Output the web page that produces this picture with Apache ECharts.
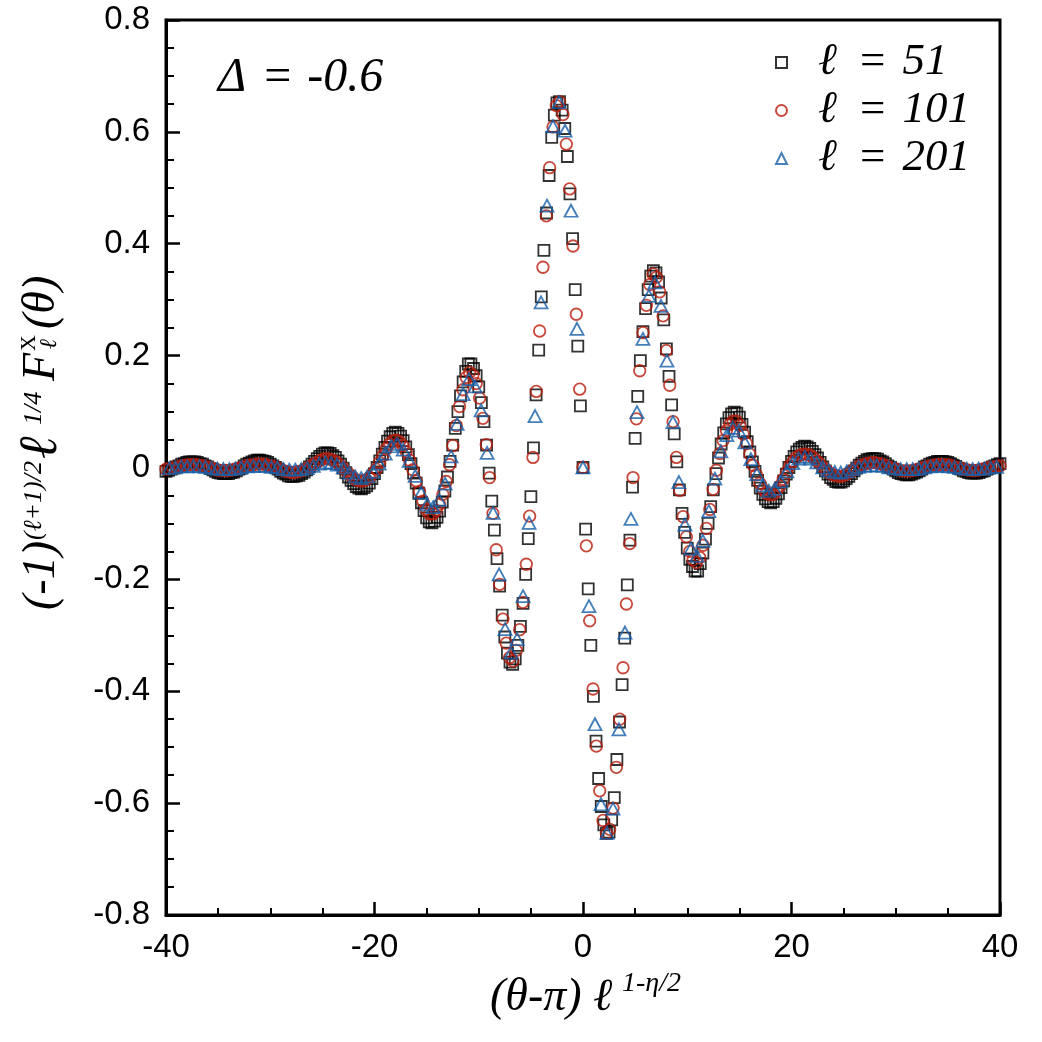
<!DOCTYPE html>
<html lang="en">
<head>
    <meta charset="UTF-8">
    <title>echarts</title>
    <script src="https://cdn.jsdelivr.net/npm/echarts/dist/echarts.min.js"></script>
    <style>
        html, body { margin: 0; padding: 0; background: #fff; }
        #main { width: 1042px; height: 1042px; }
    </style>
</head>
<body>
<div id="main"></div>
<script type="text/javascript">
    // axis ticks
    var xTicks = [-40, -20, 0, 20, 40];
    var yTicks = [-0.8, -0.6, -0.4, -0.2, 0, 0.2, 0.4, 0.6, 0.8];

    // series names (legend)
    var names = ['ℓ = 51', 'ℓ = 101', 'ℓ = 201'];

    // l = 51 : x from -40 to 40, evenly spaced
    var l51Range = [-40, 40];
    var l51 = [
        -0.007, -0.005, -0.003, -0.001, 0.001, 0.003, 0.006, 0.007, 0.009, 0.010,
        0.010, 0.010, 0.009, 0.007, 0.006, 0.003, 0.001, -0.002, -0.004, -0.007,
        -0.009, -0.010, -0.011, -0.011, -0.011, -0.009, -0.008, -0.006, -0.003, -0.001,
        0.003, 0.006, 0.008, 0.010, 0.012, 0.013, 0.013, 0.012, 0.011, 0.009,
        0.006, 0.003, 0.000, -0.003, -0.007, -0.010, -0.012, -0.015, -0.016, -0.016,
        -0.015, -0.014, -0.011, -0.008, -0.004, 0.001, 0.006, 0.011, 0.016, 0.020,
        0.024, 0.026, 0.026, 0.025, 0.021, 0.018, 0.012, 0.006, -0.001, -0.009,
        -0.017, -0.023, -0.029, -0.034, -0.037, -0.038, -0.036, -0.033, -0.028, -0.020,
        -0.011, 0.000, 0.012, 0.024, 0.036, 0.047, 0.055, 0.061, 0.063, 0.061,
        0.056, 0.048, 0.037, 0.023, 0.007, -0.010, -0.028, -0.046, -0.063, -0.077,
        -0.090, -0.097, -0.099, -0.096, -0.089, -0.078, -0.062, -0.042, -0.017, 0.011,
        0.040, 0.070, 0.100, 0.128, 0.153, 0.172, 0.185, 0.185, 0.177, 0.164,
        0.144, 0.116, 0.082, 0.040,
        -0.010, -0.060, -0.112, -0.163, -0.212, -0.264, -0.303, -0.332, -0.348, -0.352,
        -0.342, -0.318, -0.284, -0.243, -0.191, -0.127, -0.052, 0.035, 0.130, 0.210,
        0.305, 0.388, 0.455, 0.522, 0.590, 0.630, 0.652, 0.654, 0.639, 0.606,
        0.556, 0.489, 0.409, 0.318, 0.217, 0.110,
        0, -0.110, -0.217, -0.318, -0.409, -0.489, -0.556, -0.606, -0.639, -0.654,
        -0.652, -0.630, -0.590, -0.522, -0.455, -0.388, -0.305, -0.210, -0.130, -0.035,
        0.052, 0.127, 0.191, 0.243, 0.284, 0.318, 0.342, 0.352, 0.348, 0.332,
        0.303, 0.264, 0.212, 0.163, 0.112, 0.060, 0.010,
        -0.040, -0.082, -0.116, -0.144, -0.164, -0.177, -0.185, -0.185, -0.172, -0.153,
        -0.128, -0.100, -0.070, -0.040, -0.011, 0.017, 0.042, 0.062, 0.078, 0.089,
        0.096, 0.099, 0.097, 0.090, 0.077, 0.063, 0.046, 0.028, 0.010, -0.007,
        -0.023, -0.037, -0.048, -0.056, -0.061, -0.063, -0.061, -0.055, -0.047, -0.036,
        -0.024, -0.012, 0.000, 0.011, 0.020, 0.028, 0.033, 0.036, 0.038, 0.037,
        0.034, 0.029, 0.023, 0.017, 0.009, 0.001, -0.006, -0.012, -0.018, -0.021,
        -0.025, -0.026, -0.026, -0.024, -0.020, -0.016, -0.011, -0.006, -0.001, 0.004,
        0.008, 0.011, 0.014, 0.015, 0.016, 0.016, 0.015, 0.012, 0.010, 0.007,
        0.003, 0.000, -0.003, -0.006, -0.009, -0.011, -0.012, -0.013, -0.013, -0.012,
        -0.010, -0.008, -0.006, -0.003, 0.001, 0.003, 0.006, 0.008, 0.009, 0.011,
        0.011, 0.011, 0.010, 0.009, 0.007, 0.004, 0.002, -0.001, -0.003, -0.006,
        -0.007, -0.009, -0.010, -0.010, -0.010, -0.009, -0.007, -0.006, -0.003, -0.001,
        0.001, 0.003, 0.005, 0.007
    ];

    // l = 101 : x from -40 to 40, evenly spaced
    var l101Range = [-40, 40];
    var l101 = [
        -0.003, -0.002, -0.001, 0.000, 0.002, 0.003,
        0.004, 0.005, 0.005, 0.005, 0.004, 0.003, 0.001, 0.000, -0.002, -0.004,
        -0.005, -0.005, -0.005, -0.005, -0.004, -0.003, -0.001, 0.000, 0.003, 0.004,
        0.005, 0.006, 0.006, 0.006, 0.005, 0.003, 0.002, 0.000, -0.003, -0.005,
        -0.007, -0.008, -0.009, -0.008, -0.007, -0.005, -0.003, 0.001, 0.005, 0.008,
        0.012, 0.015, 0.016, 0.015, 0.013, 0.010, 0.005, 0.000, -0.007, -0.012,
        -0.018, -0.022, -0.024, -0.024, -0.022, -0.018, -0.011, -0.003, 0.009, 0.021,
        0.033, 0.042, 0.048, 0.049, 0.046, 0.039, 0.028, 0.013, -0.004, -0.024,
        -0.043, -0.060, -0.075, -0.083, -0.083, -0.077, -0.066, -0.048, -0.025, 0.005,
        0.039, 0.075, 0.109, 0.139, 0.161, 0.170, 0.165, 0.150, 0.124, 0.088,
        0.041, -0.018, -0.082, -0.147, -0.209, -0.271, -0.314, -0.340, -0.346, -0.327,
        -0.290, -0.241, -0.173, -0.087, 0.018, 0.136, 0.244, 0.358, 0.450, 0.536,
        0.609, 0.647, 0.654, 0.631, 0.578, 0.498, 0.396, 0.274, 0.140,
        0, -0.140, -0.274, -0.396, -0.498, -0.578, -0.631, -0.654, -0.647, -0.609,
        -0.536, -0.450, -0.358, -0.244, -0.136, -0.018, 0.087, 0.173, 0.241, 0.290,
        0.327, 0.346, 0.340, 0.314, 0.271, 0.209, 0.147, 0.082, 0.018, -0.041,
        -0.088, -0.124, -0.150, -0.165, -0.170, -0.161, -0.139, -0.109, -0.075, -0.039,
        -0.005, 0.025, 0.048, 0.066, 0.077, 0.083, 0.083, 0.075, 0.060, 0.043,
        0.024, 0.004, -0.013, -0.028, -0.039, -0.046, -0.049, -0.048, -0.042, -0.033,
        -0.021, -0.009, 0.003, 0.011, 0.018, 0.022, 0.024, 0.024, 0.022, 0.018,
        0.012, 0.007, 0.000, -0.005, -0.010, -0.013, -0.015, -0.016, -0.015, -0.012,
        -0.008, -0.005, -0.001, 0.003, 0.005, 0.007, 0.008, 0.009, 0.008, 0.007,
        0.005, 0.003, 0.000, -0.002, -0.003, -0.005, -0.006, -0.006, -0.006, -0.005,
        -0.004, -0.003, 0.000, 0.001, 0.003, 0.004, 0.005, 0.005, 0.005, 0.005,
        0.004, 0.002, 0.000, -0.001, -0.003, -0.004, -0.005, -0.005, -0.005, -0.004,
        -0.003, -0.002, 0.000, 0.001, 0.002, 0.003
    ];

    // l = 201 : x from -39.675 to 39.675, evenly spaced
    var l201Range = [-39.675, 39.675];
    var l201 = [
        -0.001, 0.000, 0.002, 0.002, 0.003, 0.002, 0.001, -0.001, -0.002, -0.003,
        -0.003, -0.002, 0.000, 0.002, 0.003, 0.003, 0.003, 0.001, 0.000, -0.003,
        -0.004, -0.004, -0.003, -0.001, 0.003, 0.007, 0.009, 0.008, 0.005, 0.000,
        -0.009, -0.016, -0.019, -0.016, -0.008, 0.007, 0.025, 0.038, 0.042, 0.032,
        0.012, -0.015, -0.045, -0.066, -0.071, -0.058, -0.029, 0.020, 0.078, 0.131,
        0.158, 0.145, 0.102, 0.026, -0.081, -0.191, -0.289, -0.331, -0.307, -0.230,
        -0.099, 0.092, 0.295, 0.468, 0.610, 0.653, 0.602, 0.459, 0.248,
        0, -0.248, -0.459, -0.602, -0.653, -0.610, -0.468, -0.295, -0.092, 0.099,
        0.230, 0.307, 0.331, 0.289, 0.191, 0.081, -0.026, -0.102, -0.145, -0.158,
        -0.131, -0.078, -0.020, 0.029, 0.058, 0.071, 0.066, 0.045, 0.015, -0.012,
        -0.032, -0.042, -0.038, -0.025, -0.007, 0.008, 0.016, 0.019, 0.016, 0.009,
        0.000, -0.005, -0.008, -0.009, -0.007, -0.003, 0.001, 0.003, 0.004, 0.004,
        0.003, 0.000, -0.001, -0.003, -0.003, -0.003, -0.002, 0.000, 0.002, 0.003,
        0.003, 0.002, 0.001, -0.001, -0.002, -0.003, -0.002, -0.002, 0.000, 0.001
    ];

    var serif = '"Liberation Serif", "Times New Roman", serif';
    var sans = '"Liberation Sans", Arial, Helvetica, sans-serif';

    // pair every value with its x position on an even grid
    function toPoints(range, ys) {
        var step = (range[1] - range[0]) / (ys.length - 1);
        return ys.map(function (y, i) {
            return [range[0] + i * step, y];
        });
    }

    function txt(text, x, y, size, italic, extra) {
        var el = {
            type: 'text',
            x: x,
            y: y,
            silent: true,
            style: {
                text: text,
                font: (italic ? 'italic ' : '') + size + 'px ' + serif,
                fill: '#000',
                align: 'left',
                verticalAlign: 'middle',
                textAlign: 'left',
                textVerticalAlign: 'middle'
            }
        };
        if (extra) {
            for (var k in extra) el.style[k] = extra[k];
        }
        return el;
    }

    var chart = echarts.init(document.getElementById('main'), null, {renderer: 'canvas'});

    var option = {
        animation: false,
        backgroundColor: '#fff',
        grid: {
            left: 166,
            top: 20,
            width: 834,
            height: 895,
            show: true,
            borderColor: '#000',
            borderWidth: 3,
            backgroundColor: 'transparent'
        },
        legend: {
            data: names,
            orient: 'vertical',
            left: 770,
            top: 35,
            itemWidth: 11,
            itemHeight: 11,
            itemGap: 3,
            selectedMode: false,
            textStyle: {
                color: '#000',
                padding: [0, 0, 0, 26],
                rich: {
                    i: {fontFamily: serif, fontStyle: 'italic', fontSize: 45, lineHeight: 48, color: '#000'},
                    r: {fontFamily: serif, fontSize: 45, lineHeight: 48, color: '#000', padding: [0, 6, 0, 12]}
                }
            },
            formatter: function (name) {
                var p = name.split(' = ');
                return '{i|' + p[0] + '}{r| = }{i|' + p[1] + '}';
            }
        },
        xAxis: {
            type: 'value',
            min: xTicks[0],
            max: xTicks[xTicks.length - 1],
            interval: xTicks[1] - xTicks[0],
            axisLine: {onZero: false, lineStyle: {color: '#000', width: 3}},
            axisTick: {inside: true, length: 13, lineStyle: {color: '#000', width: 2.5}},
            minorTick: {show: true, splitNumber: 4, length: 7, lineStyle: {color: '#000', width: 2}},
            axisLabel: {color: '#000', fontSize: 33, fontFamily: sans, margin: 16},
            splitLine: {show: false}
        },
        yAxis: {
            type: 'value',
            min: yTicks[0],
            max: yTicks[yTicks.length - 1],
            interval: 0.2,
            axisLine: {onZero: false, lineStyle: {color: '#000', width: 3}},
            axisTick: {inside: true, length: 14, lineStyle: {color: '#000', width: 2.5}},
            minorTick: {show: true, splitNumber: 4, length: 8, lineStyle: {color: '#000', width: 2}},
            axisLabel: {
                color: '#000', fontSize: 33, fontFamily: sans, margin: 16,
                formatter: function (v) {
                    var r = Math.round(v * 10) / 10;
                    return r === 0 ? '0' : r.toFixed(1);
                }
            },
            splitLine: {show: false}
        },
        series: [
            {
                name: names[0],
                type: 'scatter',
                data: toPoints(l51Range, l51),
                symbol: 'rect',
                symbolSize: 11,
                silent: true,
                itemStyle: {color: 'rgba(0,0,0,0)', borderColor: '#000', borderWidth: 1.8}
            },
            {
                name: names[1],
                type: 'scatter',
                data: toPoints(l101Range, l101),
                symbol: 'circle',
                symbolSize: 11.5,
                silent: true,
                itemStyle: {color: 'rgba(0,0,0,0)', borderColor: '#b81c0a', borderWidth: 1.8}
            },
            {
                name: names[2],
                type: 'scatter',
                data: toPoints(l201Range, l201),
                symbol: 'triangle',
                symbolSize: [13, 12],
                silent: true,
                itemStyle: {color: 'rgba(0,0,0,0)', borderColor: '#165fa9', borderWidth: 1.8}
            }
        ],
        graphic: [
            // Delta annotation
            txt('{i|Δ}{r| = }{i|-0.6}', 218, 78, 48, true, {
                rich: {
                    i: {fontFamily: serif, fontStyle: 'italic', fontSize: 48},
                    r: {fontFamily: serif, fontSize: 48, padding: [0, 4, 0, 6]}
                }
            }),
            // x axis title
            txt('(θ-π) ℓ', 490, 998, 46, true),
            txt('1-η/2', 622, 984, 28, true),
            // y axis title, rotated
            {
                type: 'group',
                x: 42,
                y: 435,
                rotation: Math.PI / 2,
                children: [
                    txt('(-1)', -175, 0, 46, true),
                    txt('(ℓ+1)/2', -105, -8, 26, true),
                    txt('ℓ', -24, 0, 54, true),
                    txt('1/4', 10, -8, 26, true),
                    txt('F', 54, 0, 46, true),
                    txt('X', 84, -13, 22, false),
                    txt('ℓ', 86, 8, 24, true),
                    txt('(θ)', 106, 0, 46, true)
                ]
            }
        ]
    };

    chart.setOption(option);
</script>
</body>
</html>
